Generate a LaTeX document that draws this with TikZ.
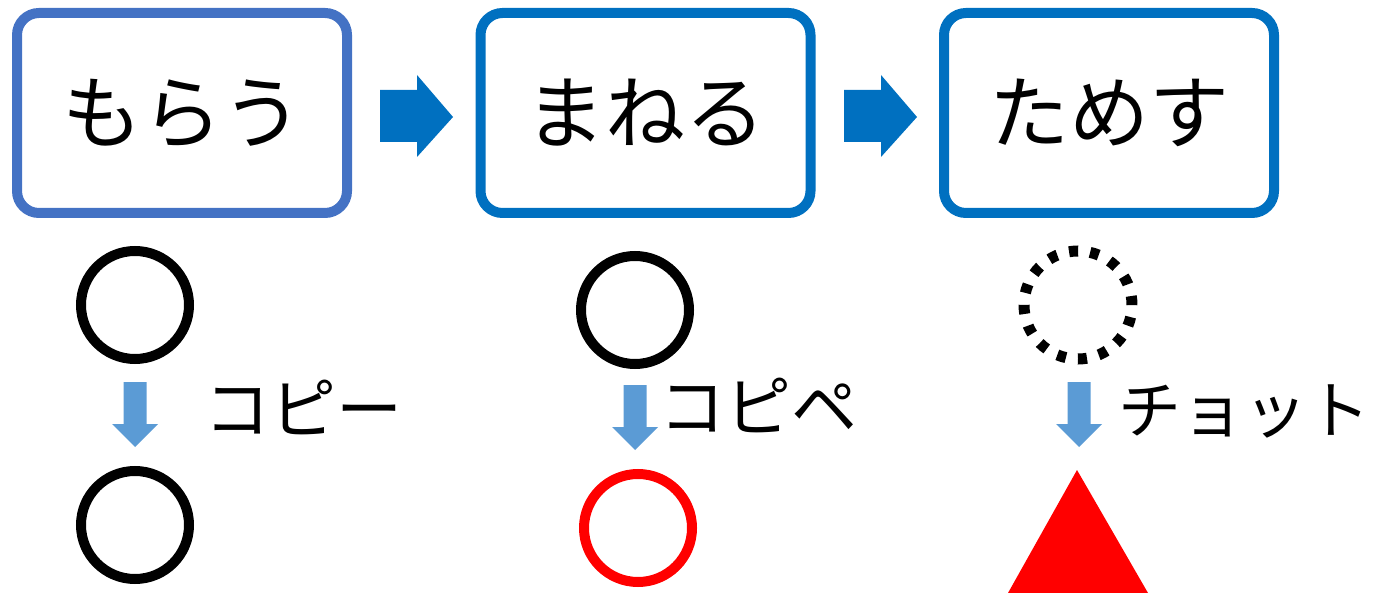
\documentclass[tikz,border=0pt]{standalone}
\usepackage{fontspec}
\newfontfamily\jp{Noto Sans CJK JP}
\definecolor{boxblueA}{HTML}{4472C4}
\definecolor{boxblueB}{HTML}{0070C0}
\definecolor{downblue}{HTML}{5B9BD5}
\definecolor{pured}{HTML}{FF0000}
\begin{document}
\begin{tikzpicture}[x=1pt,y=-1pt,
  stagebox/.style={draw, line width=10pt, rounded corners=22pt, minimum width=330pt, minimum height=200pt, inner sep=0pt, font=\jp\fontsize{80}{80}\selectfont},
  ring/.style={circle, draw, line width=10pt, minimum size=108pt, inner sep=0pt},
  lbl/.style={anchor=west, inner sep=0pt, font=\jp\fontsize{66}{66}\selectfont},
  rightarrow/.style={fill=boxblueB},
  downarrow/.style={fill=downblue}]
\useasboundingbox (0,0) rectangle (1373,593);
% stage boxes
\node[stagebox, draw=boxblueA] (b1) at (182,113) {もらう};
\node[stagebox, draw=boxblueB] (b2) at (645.5,113) {まねる};
\node[stagebox, draw=boxblueB] (b3) at (1109,113) {ためす};
% block arrows between boxes
\fill[rightarrow, shift={(380,116)}] (0,-26) -- (37,-26) -- (37,-41) -- (73,1) -- (37,41) -- (37,26) -- (0,26) -- cycle;
\fill[rightarrow, shift={(844,116)}] (0,-26) -- (37,-26) -- (37,-41) -- (73,1) -- (37,41) -- (37,26) -- (0,26) -- cycle;
% column 1
\node[ring] (c1a) at (135,305) {};
\node[ring] (c1b) at (135,525) {};
\fill[downarrow, shift={(135,382)}] (-11.5,0) -- (11.5,0) -- (11.5,42) -- (23,42) -- (0,65) -- (-23,42) -- (-11.5,42) -- cycle;
\node[lbl] (t1) at (204,407) {コピー};
% column 2
\node[ring] (c2a) at (635,310) {};
\node[ring, draw=pured] (c2b) at (638,528) {};
\fill[downarrow, shift={(635,385)}] (-11.5,0) -- (11.5,0) -- (11.5,42) -- (23,42) -- (0,65) -- (-23,42) -- (-11.5,42) -- cycle;
\node[lbl] (t2) at (659,405) {コピペ};
% column 3
\node[ring, dash pattern=on 9pt off 12.2pt, line width=11pt] (c3a) at (1078,305) {};
\fill[downarrow, shift={(1079,382)}] (-11.5,0) -- (11.5,0) -- (11.5,42) -- (23,42) -- (0,65) -- (-23,42) -- (-11.5,42) -- cycle;
\node[lbl, font=\jp\fontsize{63}{63}\selectfont] (t3) at (1118,411) {チョット};
\fill[pured] (1077,470) -- (1148,593) -- (1008,593) -- cycle;
\end{tikzpicture}
\end{document}
